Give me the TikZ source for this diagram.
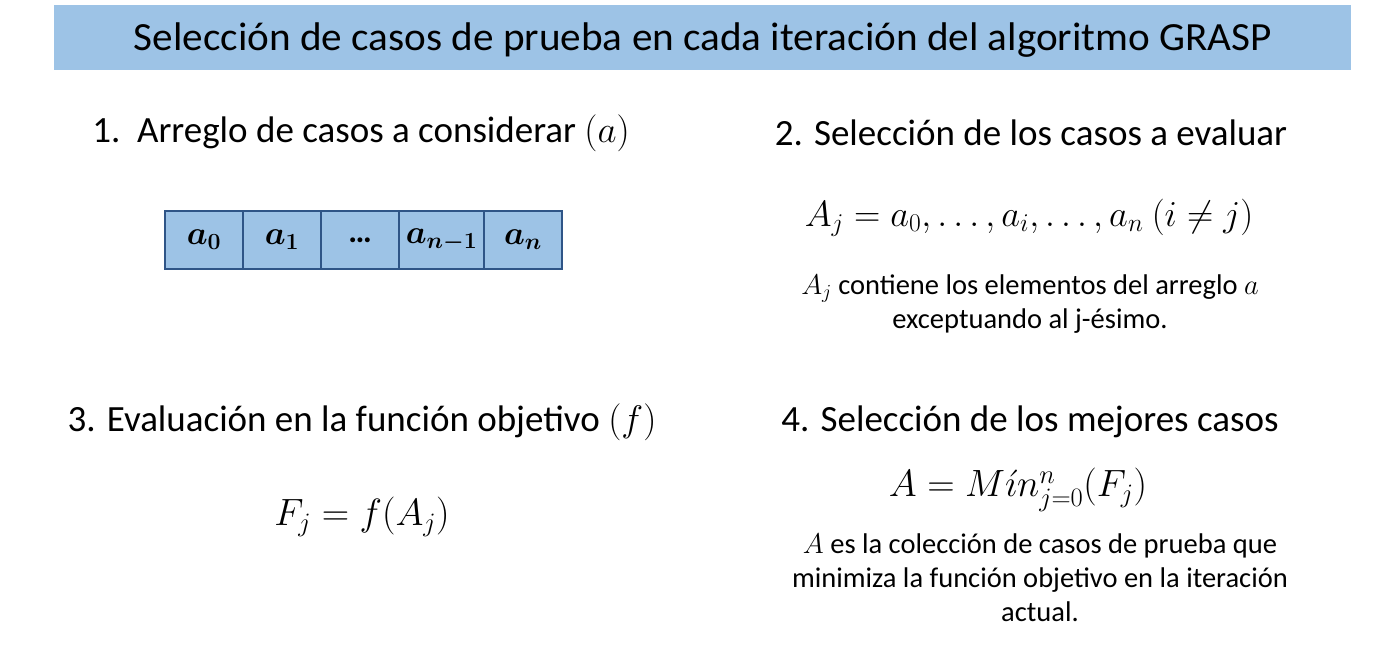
\RequirePackage{fix-cm}
\documentclass[tikz,border=0pt]{standalone}
\usepackage{amsmath}
\usepackage{fontspec}
\setmainfont{Carlito}
\definecolor{barblue}{HTML}{9DC3E6}
\definecolor{cellblue}{HTML}{9DC3E6}
\definecolor{edgeblue}{HTML}{2F5587}
\begin{document}
\begin{tikzpicture}[x=1pt,y=-1pt,
  heading/.style={font=\fontsize{37}{44}\selectfont, inner sep=0pt},
  desc/.style={font=\fontsize{28.5}{34}\selectfont, align=center, inner sep=0pt},
  formula/.style={font=\fontsize{38}{44}\selectfont, inner sep=0pt},
  cell/.style={draw=edgeblue, fill=cellblue, line width=2pt, minimum height=58pt, inner sep=0pt, font=\fontsize{33}{36}\selectfont}]
\useasboundingbox (0,0) rectangle (1395,647);
\fill[white] (0,0) rectangle (1395,647);
\node[fill=barblue, minimum width=1297pt, minimum height=65pt, inner sep=0pt] (title) at (702.5,37.5) {};
\node[font=\fontsize{40}{44}\selectfont, inner sep=0pt, anchor=base] (titletext) at (703,51) {\scalebox{1.03}[1]{Selección de casos de prueba en cada iteración del algoritmo GRASP}};
\node[heading] (h1) at (361,133) {1.\ \ Arreglo de casos a considerar $(a)$};
\node[heading] (h2) at (1031,133) {2. Selección de los casos a evaluar};
\node[heading] (h3) at (362,422) {3. Evaluación en la función objetivo $(f)$};
\node[heading] (h4) at (1030,422) {4. Selección de los mejores casos};
% array
\node[cell, minimum width=78pt] (c0) at (204,240) {$\boldsymbol{a_0}$};
\node[cell, minimum width=78pt] (c1) at (282,240) {$\boldsymbol{a_1}$};
\node[cell, minimum width=78pt] (c2) at (360,240) {\bfseries …};
\node[cell, minimum width=85pt] (c3) at (441.5,240) {$\boldsymbol{a_{n-1}}$};
\node[cell, minimum width=78pt] (c4) at (523,240) {$\boldsymbol{a_n}$};
% formulas
\node[formula, font=\fontsize{36.5}{42}\selectfont] (f2) at (1029,218) {$A_j = a_0, \ldots, a_i, \ldots, a_n\ (i \neq j)$};
\node[desc] (d2) at (1030,304) {$A_j$ contiene los elementos del arreglo $a$\\exceptuando al j-ésimo.};
\node[formula] (f3) at (362,517) {$F_j = f(A_j)$};
\node[formula] (f4) at (1018,490) {$A = M\acute{\imath}n_{j=0}^{n}(F_j)$};
\node[desc] (d4) at (1040,578) {$A$ es la colección de casos de prueba que\\minimiza la función objetivo en la iteración\\actual.};
\end{tikzpicture}
\end{document}
